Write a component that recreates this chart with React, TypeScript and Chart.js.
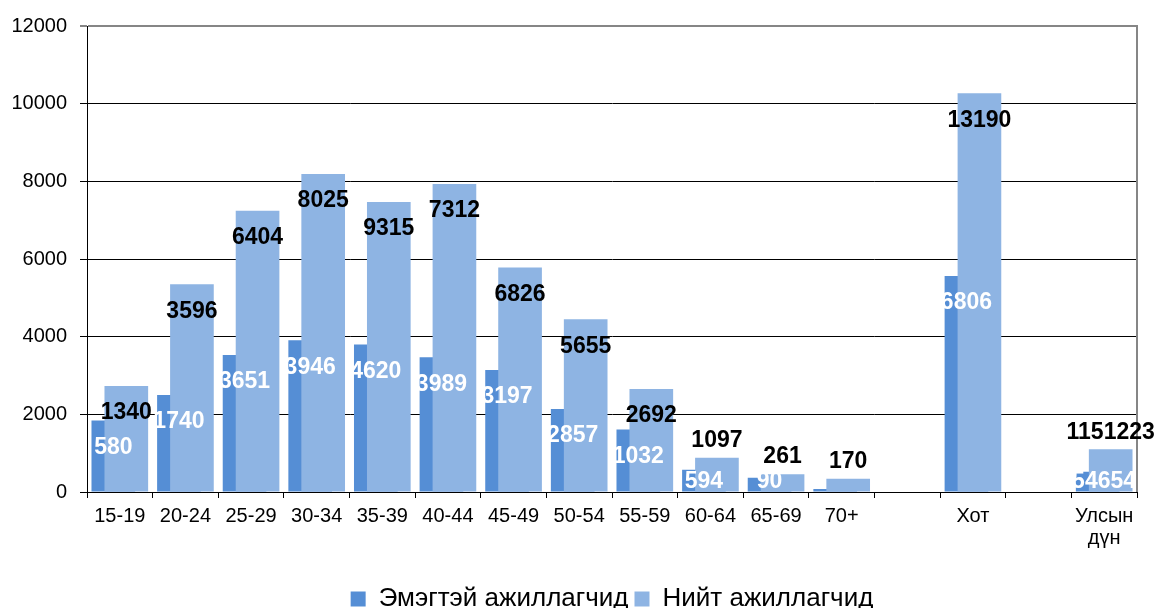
import React, { useEffect, useRef } from 'react';
import { Chart, registerables } from 'chart.js';

Chart.register(...registerables);

// ---- data ----
const categories: (string | string[])[] = [
  '15-19', '20-24', '25-29', '30-34', '35-39', '40-44', '45-49', '50-54',
  '55-59', '60-64', '65-69', '70+', '', 'Хот', '', ['Улсын', 'дүн'],
];
const womenValues: (number | null)[] = [
  1840, 2500, 3530, 3910, 3800, 3470, 3140, 2140, 1610, 570, 370, 80, null, 5560, null, 520,
];
const totalValues: (number | null)[] = [
  2730, 5350, 7240, 8190, 7470, 7930, 5780, 4450, 2650, 880, 460, 340, null, 10270, null, 1100,
];
const womenLabels: (string | null)[] = [
  '580', '1740', '3651', '3946', '4620', '3989', '3197', '2857', '1032', '594', '90', null, null, '6806', null, '554654',
];
const totalLabels: (string | null)[] = [
  '1340', '3596', '6404', '8025', '9315', '7312', '6826', '5655', '2692', '1097', '261', '170', null, '13190', null, '1151223',
];
const seriesNames = ['Эмэгтэй ажиллагчид', 'Нийт ажиллагчид'];
const yMin = 0;
const yMax = 12000;
const yStep = 2000;

const FONT = "'Liberation Sans', Arial, Helvetica, sans-serif";

export default function App() {
  const ref = useRef<HTMLCanvasElement>(null);

  useEffect(() => {
    if (!ref.current) return;

    const labelPlugin = {
      id: 'barLabels',
      afterDatasetsDraw(chart: any) {
        const ctx = chart.ctx;
        ctx.save();
        ctx.font = `bold 23px ${FONT}`;
        ctx.textAlign = 'center';
        ctx.textBaseline = 'middle';
        const m0 = chart.getDatasetMeta(0);
        m0.data.forEach((bar: any, i: number) => {
          const t = womenLabels[i];
          if (t == null || womenValues[i] == null) return;
          ctx.fillStyle = '#ffffff';
          ctx.fillText(t, bar.x, Math.min(bar.y + 27, 482));
        });
        const m1 = chart.getDatasetMeta(1);
        m1.data.forEach((bar: any, i: number) => {
          const t = totalLabels[i];
          if (t == null || totalValues[i] == null) return;
          ctx.fillStyle = '#000000';
          const y = bar.y + 27 <= 440 ? bar.y + 27 : bar.y - 17;
          ctx.fillText(t, bar.x, y);
        });
        ctx.restore();
      },
    };

    const borderPlugin = {
      id: 'plotBorder',
      beforeDatasetsDraw(chart: any) {
        const { top, bottom, right } = chart.chartArea;
        const ctx = chart.ctx;
        ctx.save();
        ctx.strokeStyle = '#868686';
        ctx.lineWidth = 2;
        ctx.beginPath();
        ctx.moveTo(right, top - 1);
        ctx.lineTo(right, bottom);
        ctx.stroke();
        ctx.restore();
      },
    };

    // draw the women series first so the total series overlaps it
    const orderPlugin = {
      id: 'drawOrder',
      beforeDatasetsDraw(chart: any) {
        const meta = chart.getDatasetMeta(0);
        if (meta && meta.controller) meta.controller.draw();
      },
      beforeDatasetDraw(chart: any, args: any) {
        if (args.index === 0) return false;
        return true;
      },
    };

    const chart = new Chart(ref.current, {
      type: 'bar',
      data: {
        labels: categories as any,
        datasets: [
          {
            label: seriesNames[0],
            data: womenValues,
            backgroundColor: '#558ED5',
            borderWidth: 0,
            categoryPercentage: 0.396,
            barPercentage: 3.36,
          },
          {
            label: seriesNames[1],
            data: totalValues,
            backgroundColor: '#8EB4E3',
            borderWidth: 0,
            categoryPercentage: 0.396,
            barPercentage: 3.36,
          },
        ],
      },
      options: {
        responsive: false,
        animation: false,
        devicePixelRatio: 1,
        layout: { padding: { left: 0, right: 21, top: 26, bottom: 0 } },
        plugins: {
          tooltip: { enabled: false },
          legend: {
            position: 'bottom',
            fullSize: false,
            labels: {
              boxWidth: 15,
              boxHeight: 15,
              padding: 6,
              color: '#000',
              font: { family: FONT, size: 26 },
            },
          },
        },
        scales: {
          x: {
            type: 'category',
            offset: true,
            grid: {
              display: true,
              drawOnChartArea: false,
              drawTicks: true,
              tickLength: 6,
              color: '#000',
              offset: true,
            },
            border: { display: true, color: '#000', width: 1 },
            ticks: {
              color: '#000',
              font: { family: FONT, size: 20, lineHeight: 1.13 },
              padding: 7,
              maxRotation: 0,
              minRotation: 0,
              autoSkip: false,
            },
            afterFit: (s: any) => {
              s.height = 88;
            },
          },
          y: {
            min: yMin,
            max: yMax,
            ticks: {
              stepSize: yStep,
              color: '#000',
              font: { family: FONT, size: 20 },
              padding: 13,
              callback: (v: any) => String(v),
            },
            grid: {
              color: (c: any) => (c.tick && c.tick.value === yMax ? '#868686' : '#000'),
              lineWidth: (c: any) => (c.tick && c.tick.value === yMax ? 2 : 1),
              tickLength: 7,
            },
            border: { display: true, color: '#000', width: 1 },
            afterFit: (s: any) => {
              s.width = 87;
            },
          },
        },
      },
      plugins: [borderPlugin, orderPlugin, labelPlugin],
    } as any);

    return () => chart.destroy();
  }, []);

  return (
    <div
      style={{
        position: 'fixed',
        left: 0,
        top: 0,
        width: 1158,
        height: 608,
        overflow: 'hidden',
        background: '#fff',
      }}
    >
      <canvas ref={ref} width={1158} height={622} style={{ display: 'block', width: 1158, height: 622 }} />
    </div>
  );
}
